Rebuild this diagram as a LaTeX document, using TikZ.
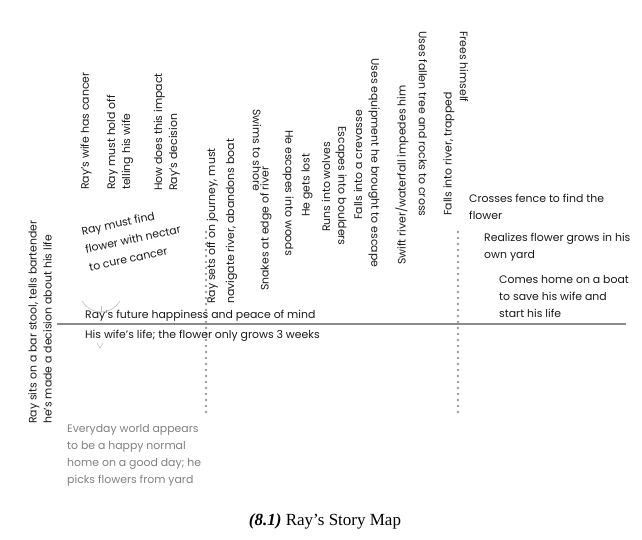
\documentclass[tikz,border=0pt]{standalone}
\usepackage{fontspec}
\setmainfont{Poppins}
\newfontfamily\capfont{Liberation Serif}
\usetikzlibrary{positioning}

\begin{document}
\begin{tikzpicture}[x=1pt,y=-1pt,
    txt/.style={font=\fontsize{10.9}{15}\selectfont, text=black!90, inner sep=0pt, align=left},
    para/.style={txt, font=\fontsize{10.9}{17}\selectfont, anchor=north west},
    up/.style={txt, rotate=90, anchor=west},
    down/.style={txt, rotate=-90, anchor=west},
    faint/.style={para, text=black!50},
    beats/.style={draw=black!40, line width=2.8pt, line cap=round, dash pattern=on 0pt off 6pt},
    axis/.style={draw=black!45, line width=1.2pt},
    wisp/.style={draw=black!25, line width=0.6pt}
]
    \useasboundingbox (0,0) rectangle (642,540);

    % main line and the two thresholds
    \coordinate (start) at (57,324);
    \coordinate (end) at (626,324);
    \coordinate (t1top) at (206,232);
    \coordinate (t1bot) at (206,417);
    \coordinate (t2top) at (458,232);
    \coordinate (t2bot) at (458,417);
    \draw[axis] (start) -- (end);
    \draw[beats] (t1top) -- (t1bot);
    \draw[beats] (t2top) -- (t2bot);

    % ordinary world
    \node[txt, rotate=90] (barstool) at (40,322) {Ray sits on a bar stool, tells bartender\\he’s made a decision about his life};
    \node[up] (cancer) at (86,190) {Ray’s wife has cancer};
    \node[up] (holdoff) at (120,190) {Ray must hold off\\telling his wife};
    \node[up] (impact) at (167,191) {How does this impact\\Ray’s decision};
    \node[txt, rotate=12, font=\fontsize{10.9}{18.5}\selectfont] (mustfind) at (133,239) {Ray must find\\flower with nectar\\to cure cancer};
    \node[faint] (everyday) at (67,424) {Everyday world appears\\to be a happy normal\\home on a good day; he\\picks flowers from yard};

    % stakes
    \node[txt, anchor=west] (future) at (85,316) {Ray’s future happiness and peace of mind};
    \node[txt, below=8pt of future.south west, anchor=north west] (wifelife) {His wife’s life; the flower only grows 3 weeks};
    \draw[wisp] (82,301) .. controls (87,309) and (95,312) .. (101,312);
    \draw[wisp] (120,301) .. controls (115,309) and (107,312) .. (101,312);
    \draw[wisp] (101,306) -- (101,312);
    \draw[wisp] (97,343) -- (100,348) -- (103,343);

    % the journey
    \node[up, font=\fontsize{10.9}{19}\selectfont] (setsoff) at (222,304) {Ray sets off on journey, must\\navigate river, abandons boat};
    \node[down] (swims) at (257,109) {Swims to shore};
    \node[up] (snakes) at (266,291) {Snakes at edge of river};
    \node[down] (woods) at (288,130) {He escapes into woods};
    \node[up] (lost) at (307,217) {He gets lost};
    \node[up] (wolves) at (326,232) {Runs into wolves};
    \node[down] (boulders) at (341,126) {Escapes into boulders};
    \node[up] (crevasse) at (358,220) {Falls into a crevasse};
    \node[down] (equipment) at (374,58) {Uses equipment he brought to escape};
    \node[up] (waterfall) at (402,265) {Swift river/waterfall impedes him};
    \node[down] (fallentree) at (423,31) {Uses fallen tree and rocks to cross};
    \node[up] (trapped) at (449,216) {Falls into river, trapped};
    \node[down] (frees) at (464,31) {Frees himself};

    % return
    \node[para] (fence) at (469,194) {Crosses fence to find the\\flower};
    \node[para] (ownyard) at (484,233) {Realizes flower grows in his\\own yard};
    \node[para] (boat) at (499,275) {Comes home on a boat\\to save his wife and\\start his life};

    \node[font=\capfont\fontsize{17}{19}\selectfont] (caption) at (325,521) {\textbf{\textit{(8.1)}} Ray’s Story Map};
\end{tikzpicture}
\end{document}
